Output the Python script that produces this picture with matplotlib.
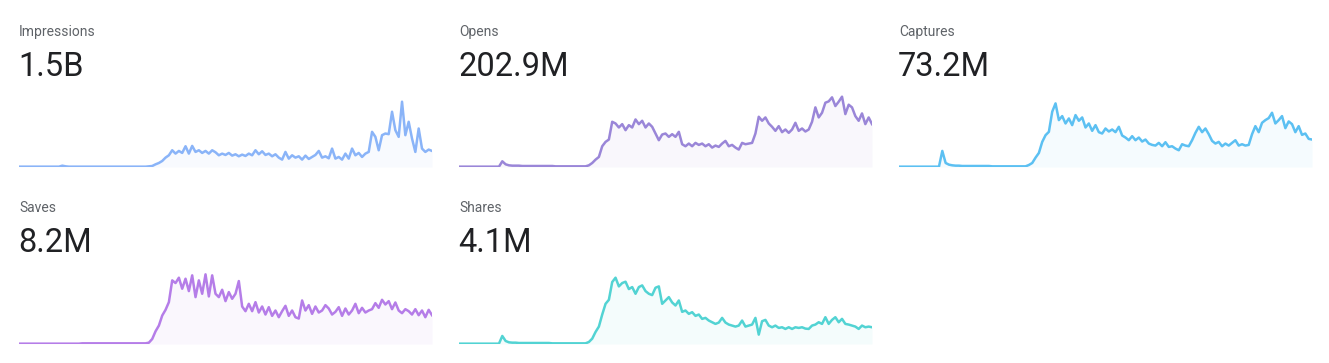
"""Five KPI sparkline cards: label, headline total and a filled trend line."""

import matplotlib
matplotlib.use("Agg")
import matplotlib.pyplot as plt
import numpy as np

plt.rcParams["font.family"] = ["Roboto", "DejaVu Sans"]

FIG_W, FIG_H = 1329, 363
DPI = 100

# card titles and headline totals
metric_names = ["Impressions", "Opens", "Captures", "Saves", "Shares"]
metric_totals = ["1.5B", "202.9M", "73.2M", "8.2M", "4.1M"]

# daily trend (relative units, 125 samples each)
impressions = (
    [1] * 13 + [4, 2] + [1] * 24
    + [2, 3, 8, 12, 18, 28, 35, 50, 40, 48, 42, 62, 40, 63, 45, 50, 42, 48, 40, 50,
       44, 35, 40, 36, 42, 34, 38, 32, 37, 33, 40, 35, 50, 38, 47, 36, 40, 32, 38, 28,
       22, 45, 25, 35, 28, 32, 22, 34, 24, 30, 36, 48, 28, 32, 26, 55, 25, 30, 22, 40,
       25, 55, 35, 42, 30, 40, 45, 105, 90, 50, 95, 100, 98, 165, 110, 90, 195, 95, 135, 85,
       45, 115, 55, 45, 52, 48]
)
opens = (
    [1] * 13 + [17, 8, 5, 4, 4, 4, 3, 3, 3, 3, 3, 3, 3, 3, 3, 3, 2, 2, 2, 2, 2, 2, 2, 2, 2, 2]
    + [5, 12, 22, 30, 62, 75, 82, 135, 130, 118, 128, 110, 125, 118, 142, 128, 138, 118, 130, 120,
       100, 80, 97, 100, 90, 98, 90, 105, 68, 62, 70, 62, 72, 66, 70, 62, 68, 58, 64, 60,
       70, 78, 62, 66, 58, 52, 72, 68, 70, 72, 100, 150, 138, 148, 130, 120, 108, 122, 104, 112,
       102, 112, 132, 108, 115, 106, 112, 135, 178, 148, 162, 192, 196, 208, 182, 195, 210, 158, 186, 178,
       152, 138, 160, 128, 148, 128]
)
captures = (
    [1] * 13 + [48, 12, 7, 5, 4, 4, 3, 3, 3, 3, 3, 3, 3, 3, 3, 2, 2, 2, 2, 2, 2, 2, 2, 2, 2, 2]
    + [6, 12, 28, 42, 75, 95, 105, 165, 190, 140, 152, 130, 145, 125, 155, 138, 148, 118, 130, 108,
       125, 104, 100, 115, 106, 112, 104, 120, 94, 88, 80, 92, 80, 88, 76, 82, 70, 66, 64, 72,
       62, 74, 60, 62, 55, 50, 68, 64, 62, 80, 102, 120, 104, 115, 98, 78, 70, 75, 62, 70,
       64, 72, 80, 64, 68, 64, 66, 98, 122, 104, 132, 140, 146, 162, 130, 140, 152, 116, 136, 128,
       104, 122, 96, 100, 84, 82]
)
saves = (
    [1] * 19 + [2] * 20
    + [4, 15, 38, 55, 85, 102, 125, 190, 182, 198, 165, 195, 158, 205, 140, 190, 150, 208, 142, 205,
       150, 140, 162, 128, 155, 135, 150, 188, 112, 98, 120, 98, 125, 94, 112, 88, 110, 84, 100, 80,
       98, 114, 84, 100, 80, 76, 130, 100, 116, 90, 112, 94, 100, 116, 106, 88, 96, 110, 84, 106,
       88, 100, 120, 92, 108, 94, 100, 104, 122, 108, 132, 118, 128, 104, 124, 100, 92, 104, 98, 88,
       104, 86, 100, 80, 102, 86]
)
shares = (
    [1] * 13 + [24, 9, 5, 4, 4, 3, 3, 3, 3, 3, 3, 3, 3, 3, 3, 2, 2, 2, 2, 2, 2, 2, 2, 2, 2, 2]
    + [6, 16, 36, 52, 88, 120, 132, 185, 198, 172, 182, 186, 164, 170, 150, 170, 175, 158, 150, 146,
       168, 172, 120, 130, 140, 124, 115, 130, 96, 100, 90, 95, 84, 88, 75, 78, 70, 65, 60, 64,
       78, 64, 58, 55, 52, 55, 70, 52, 55, 58, 78, 28, 68, 72, 55, 50, 55, 48, 50, 45,
       50, 45, 50, 48, 50, 46, 45, 55, 58, 65, 60, 80, 60, 72, 80, 65, 75, 60, 58, 55,
       52, 45, 55, 50, 52, 50]
)
metric_series = [impressions, opens, captures, saves, shares]

metric_colors = ["#8AB4F8", "#9A86D8", "#5CC0F2", "#B57DE8", "#52D3D3"]

LABEL_COLOR = "#5F6368"
VALUE_COLOR = "#202124"

# layout in pixels
COL_X = [19, 459, 899]
ROW_OFFSET = 176
PLOT_W = 413
PLOT_BASE = 167
PLOT_H = 72
Y_MAX = 215


def px_box(left, top, width, height):
    """Pixel box (top-left origin) to figure fraction [l, b, w, h]."""
    return [left / FIG_W, 1 - (top + height) / FIG_H, width / FIG_W, height / FIG_H]


fig = plt.figure(figsize=(FIG_W / DPI, FIG_H / DPI), dpi=DPI)
fig.patch.set_facecolor("white")

for idx, (name, total, values, color) in enumerate(
    zip(metric_names, metric_totals, metric_series, metric_colors)
):
    row, col = divmod(idx, 3)
    left = COL_X[col]
    dy = row * ROW_OFFSET

    fig.text(left / FIG_W, 1 - (36 + dy) / FIG_H, name, fontsize=10,
             color=LABEL_COLOR, ha="left", va="baseline")
    fig.text((left - 1) / FIG_W, 1 - (76 + dy) / FIG_H, total, fontsize=23.5,
             color=VALUE_COLOR, ha="left", va="baseline")

    base = PLOT_BASE + dy + (1 if row else 0)
    ax = fig.add_axes(px_box(left, base - PLOT_H, PLOT_W, PLOT_H))
    y = np.asarray(values, dtype=float)
    x = np.arange(len(y))
    ax.fill_between(x, 0, y, color=color, alpha=0.06, linewidth=0)
    ax.plot(x, y, color=color, linewidth=1.8, solid_joinstyle="round")
    ax.set_xlim(0, len(y) - 1)
    ax.set_ylim(0, Y_MAX)
    ax.axis("off")

fig.savefig("out.png", dpi=DPI, facecolor="white")
plt.close(fig)
